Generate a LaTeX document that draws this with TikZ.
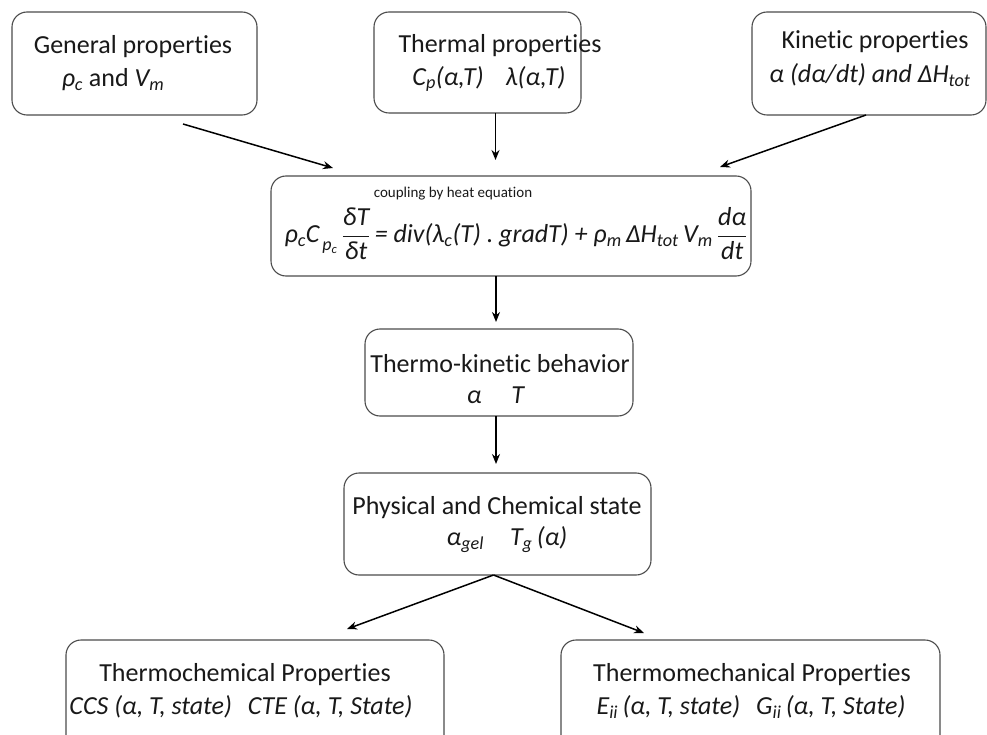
\documentclass[tikz,border=0pt]{standalone}
\usepackage{amsmath}
\usepackage{fontspec}
\setmainfont[Ligatures=NoCommon]{Carlito}
\usetikzlibrary{arrows.meta}
\newcommand{\sbs}[1]{\textsubscript{#1}}
\begin{document}
\begin{tikzpicture}[x=1pt,y=-1pt,
  box/.style={draw=black!70,line width=1.1pt,rounded corners=15pt,inner sep=0pt,outer sep=0pt,fill=white},
  txt/.style={inner sep=0pt,font=\fontsize{26}{30}\selectfont,text=black!90},
  arr/.style={line width=1.5pt,-{Stealth[length=10pt,width=8pt]}}]
\useasboundingbox (0,0) rectangle (987,735);
\clip (0,0) rectangle (987,735);
% boxes
\node[box,minimum width=245pt,minimum height=103pt] (gen) at (134.5,63.5) {};
\node[box,minimum width=207pt,minimum height=101pt] (thm) at (477.5,62.5) {};
\node[box,minimum width=234pt,minimum height=103pt] (kin) at (869,63.5) {};
\node[box,minimum width=480pt,minimum height=100pt] (cpl) at (511,226) {};
\node[box,minimum width=268pt,minimum height=87pt] (tkb) at (499,372.5) {};
\node[box,minimum width=307pt,minimum height=102pt] (pcs) at (497.5,524) {};
\node[box,minimum width=378pt,minimum height=120pt] (tch) at (255,700) {};
\node[box,minimum width=379pt,minimum height=120pt] (tmc) at (750.5,700) {};
% texts
\node[txt] (gen1) at (133,47) {General properties};
\node[txt] (gen2) at (113,80) {\textit{ρ\sbs{c}} and \textit{V\sbs{m}}};
\node[txt] (thm1) at (500,46) {Thermal properties};
\node[txt] (thm2) at (489,79) {\textit{C\sbs{p}(α,T)\hspace{22pt}λ(α,T)}};
\node[txt] (kin1) at (875,42) {Kinetic properties};
\node[txt] (kin2) at (870,75) {\textit{α (dα/dt) and ΔH\sbs{tot}}};
\node[txt,font=\fontsize{15}{18}\selectfont] (cpl1) at (453,194) {coupling by heat equation};
\node[txt,font=\fontsize{26}{30}\selectfont] (cpl2) at (516,234) {\itshape ρ\sbs{c}C\raisebox{-8pt}{\fontsize{18}{20}\selectfont\,p\sbs{c}}\,$\dfrac{\text{\itshape δT}}{\text{\itshape δt}}$\,= div(λ\sbs{c}(T)~.~gradT) + ρ\sbs{m}\,ΔH\sbs{tot}\,V\sbs{m}\,$\dfrac{\text{\itshape dα}}{\text{\itshape dt}}$};
\node[txt] (tkb1) at (500,364) {Thermo-kinetic behavior};
\node[txt] (tkb2) at (496,395) {\textit{α\hspace{30pt}T}};
\node[txt] (pcs1) at (497,508) {Physical and Chemical state};
\node[txt] (pcs2) at (507,540) {\textit{α\sbs{gel}\hspace{26pt}T\sbs{g}\,(α)}};
\node[txt] (tch1) at (245,675) {Thermochemical Properties};
\node[txt] (tch2) at (241,707) {\textit{CCS (α, T, state)\hspace{16pt}CTE (α, T, State)}};
\node[txt] (tmc1) at (752,675) {Thermomechanical Properties};
\node[txt] (tmc2) at (751,707) {\textit{E\sbs{ii}\,(α, T, state)\hspace{16pt}G\sbs{ii}\,(α, T, State)}};
% connectors
\coordinate (g0) at (183,124);
\coordinate (g1) at (333,168);
\coordinate (k1) at (720,167);
\draw[arr] (g0) -- (g1);
\draw[arr] ([xshift=18pt]thm.south) -- ([xshift=18pt,yshift=-47pt]thm.south);
\draw[arr] ([xshift=-3pt]kin.south) -- (k1);
\draw[arr] ([xshift=-15pt]cpl.south) -- ([xshift=-15pt,yshift=-46pt]cpl.south);
\draw[arr] ([xshift=-3pt]tkb.south) -- ([xshift=-3pt,yshift=-48pt]tkb.south);
\coordinate (t1) at (347,629);
\coordinate (m1) at (644,633);
\draw[arr] ([xshift=-4pt]pcs.south) -- (t1);
\draw[arr] ([xshift=-4pt]pcs.south) -- (m1);
\end{tikzpicture}
\end{document}
